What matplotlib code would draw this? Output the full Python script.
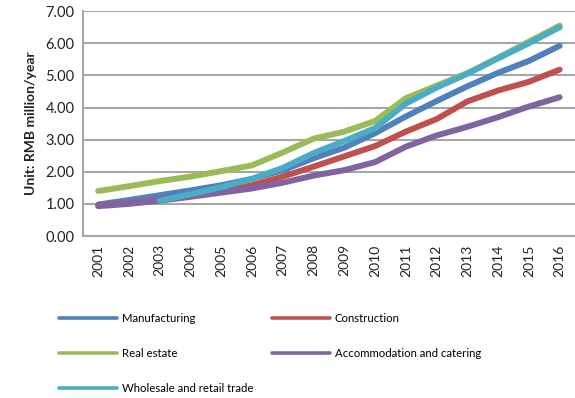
import matplotlib
matplotlib.use("Agg")
import matplotlib.pyplot as plt
import numpy as np

plt.rcParams["font.family"] = ["Lato", "DejaVu Sans"]

GRID = "#A6A6A6"
TEXT = "#222222"

years = list(range(2001, 2017))

manufacturing = [0.98, 1.12, 1.27, 1.42, 1.58, 1.78, 2.05, 2.42, 2.75, 3.20,
                 3.72, 4.20, 4.66, 5.08, 5.45, 5.92]
construction = [0.95, 1.02, 1.12, 1.25, 1.40, 1.58, 1.85, 2.16, 2.48, 2.80,
                3.25, 3.64, 4.19, 4.53, 4.80, 5.18]
real_estate = [1.40, 1.55, 1.71, 1.85, 2.02, 2.20, 2.60, 3.03, 3.25, 3.58,
               4.29, 4.68, 5.07, 5.55, 6.05, 6.55]
accommodation = [0.93, 1.00, 1.10, 1.22, 1.35, 1.48, 1.66, 1.88, 2.05, 2.30,
                 2.78, 3.13, 3.40, 3.70, 4.03, 4.32]
# wholesale series begins in 2003
wholesale_years = years[2:]
wholesale = [1.10, 1.30, 1.52, 1.78, 2.12, 2.58, 2.96, 3.36, 4.12, 4.62,
             5.05, 5.53, 6.00, 6.50]

series = [
    ("Manufacturing", years, manufacturing, "#4F81BD"),
    ("Construction", years, construction, "#C0504D"),
    ("Real estate", years, real_estate, "#9BBB59"),
    ("Accommodation and catering", years, accommodation, "#8064A2"),
    ("Wholesale and retail trade", wholesale_years, wholesale, "#4BACC6"),
]

fig = plt.figure(figsize=(5.75, 3.98), dpi=100)
ax = fig.add_axes([0.144, 0.407, 0.856, 0.565])

lines = []
for label, xs, ys, color in series:
    ln, = ax.plot(xs, ys, color=color, linewidth=4.3, solid_capstyle="round",
                  solid_joinstyle="round", label=label, zorder=3)
    lines.append(ln)

ax.set_xlim(2000.5, 2016.5)
ax.set_ylim(0, 7)
ax.set_xticks(years)
ax.set_xticklabels([str(y) for y in years], rotation=90, fontsize=10, color=TEXT)
ax.set_yticks(np.arange(0, 7.01, 1))
ax.set_yticklabels([f"{v:.2f}" for v in np.arange(0, 7.01, 1)], fontsize=10.5, color=TEXT)
ax.tick_params(axis="both", length=0, pad=6)
ax.yaxis.grid(True, color=GRID, linewidth=1.5, zorder=0)
ax.set_axisbelow(True)
for side in ("top", "right"):
    ax.spines[side].set_visible(False)
for side in ("left", "bottom"):
    ax.spines[side].set_color(GRID)
    ax.spines[side].set_linewidth(1.5)

ax.set_ylabel("Unit: RMB million/year", fontsize=10, fontweight="bold",
              color=TEXT, labelpad=6)

# legend reads row by row: matplotlib fills columns, so reorder the handles
order = [0, 2, 4, 1, 3]
leg = fig.legend([lines[i] for i in order], [series[i][0] for i in order],
                 loc="upper left", bbox_to_anchor=(0.103, 0.214), ncol=2,
                 frameon=False, fontsize=8.2, handlelength=5.1, handletextpad=0.45,
                 columnspacing=1.55, labelspacing=2.1, borderpad=0, borderaxespad=0)
for hl in leg.get_lines():
    hl.set_linewidth(2.6)
    hl.set_solid_capstyle("round")

fig.savefig("out.png", dpi=100, facecolor="white")
